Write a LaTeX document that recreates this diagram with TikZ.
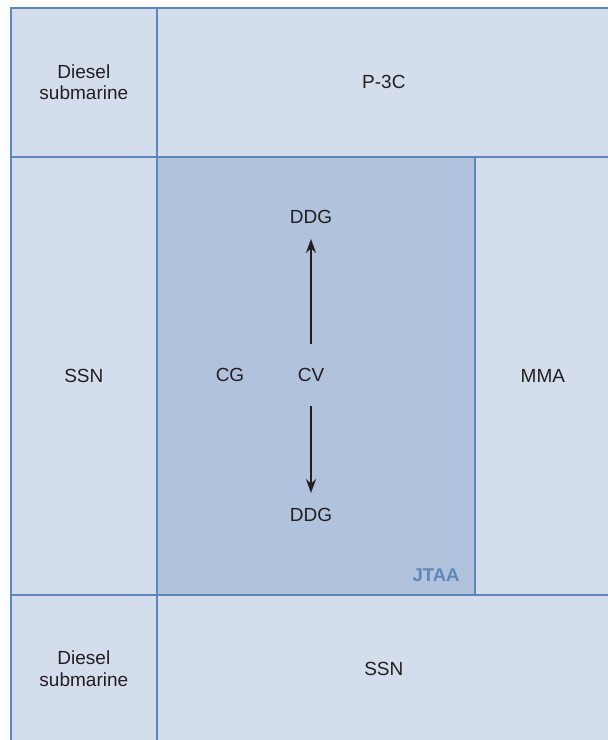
\documentclass[tikz,border=0pt]{standalone}
\usepackage{fontspec}
\setmainfont{Liberation Sans}
\usepackage{tikz}
\usetikzlibrary{arrows.meta}
\usetikzlibrary{positioning}
\definecolor{zonefill}{HTML}{D3DDEB}
\definecolor{corefill}{HTML}{B0C2DC}
\definecolor{zoneline}{HTML}{5D87BB}
\definecolor{inktext}{HTML}{231F20}
\tikzset{
    cell/.style={
           rectangle,
           fill=zonefill,
           draw=zoneline, line width=1.7pt,
           anchor=north west,
           inner sep=0pt,
           align=center,
           text=inktext,
           font=\fontsize{19}{21.5}\selectfont,
           },
    core/.style={
           cell,
           fill=corefill,
           },
    ship/.style={
           %rectangle,
           %draw=black,
           text=inktext,
           inner sep=3pt,
           font=\fontsize{19}{21.5}\selectfont,
           },
}

\begin{document}
\begin{tikzpicture}[x=1pt,y=-1pt]
	\useasboundingbox (0,0) rectangle (608,740);
	\clip (0,0) rectangle (608,740);
	\fill[white] (0,0) rectangle (608,740);

	% outer ring of zones
	\node[cell, minimum width=146pt, minimum height=149pt] (sub1) at (10,7) {Diesel\\submarine};
	\node[cell, minimum width=454pt, minimum height=149pt] (p3c) at (156,7) {P-3C};
	\node[cell, minimum width=146pt, minimum height=438pt] (ssn1) at (10,156) {SSN};
	\node[cell, minimum width=136pt, minimum height=438pt] (mma) at (474,156) {MMA};
	\node[cell, minimum width=146pt, minimum height=148pt] (sub2) at (10,594) {Diesel\\submarine};
	\node[cell, minimum width=454pt, minimum height=148pt] (ssn2) at (156,594) {SSN};
	% inner zone
	\node[core, minimum width=318pt, minimum height=438pt] (jtaa) at (156,156) {};
	\node[anchor=south east, text=zoneline, font=\fontsize{18.5}{21}\selectfont\bfseries,
		inner sep=0pt] (jtaalbl) at ([xshift=-16pt,yshift=14pt]jtaa.south east) {JTAA};

	\node[ship] (cg) at (230,375) {CG};
	\node[ship] (cv) at (311,375) {CV};
	\node[ship] (ddgup) at (311,217) {DDG};
	\node[ship] (ddgdn) at (311,515) {DDG};

	\draw[-{Stealth[length=14pt,width=10pt]}, line width=1.4pt, inktext,
		shorten <=21pt, shorten >=12pt] (cv) -- (ddgup);
	\draw[-{Stealth[length=14pt,width=10pt]}, line width=1.4pt, inktext,
		shorten <=21pt, shorten >=12pt] (cv) -- (ddgdn);
\end{tikzpicture}
\end{document}
